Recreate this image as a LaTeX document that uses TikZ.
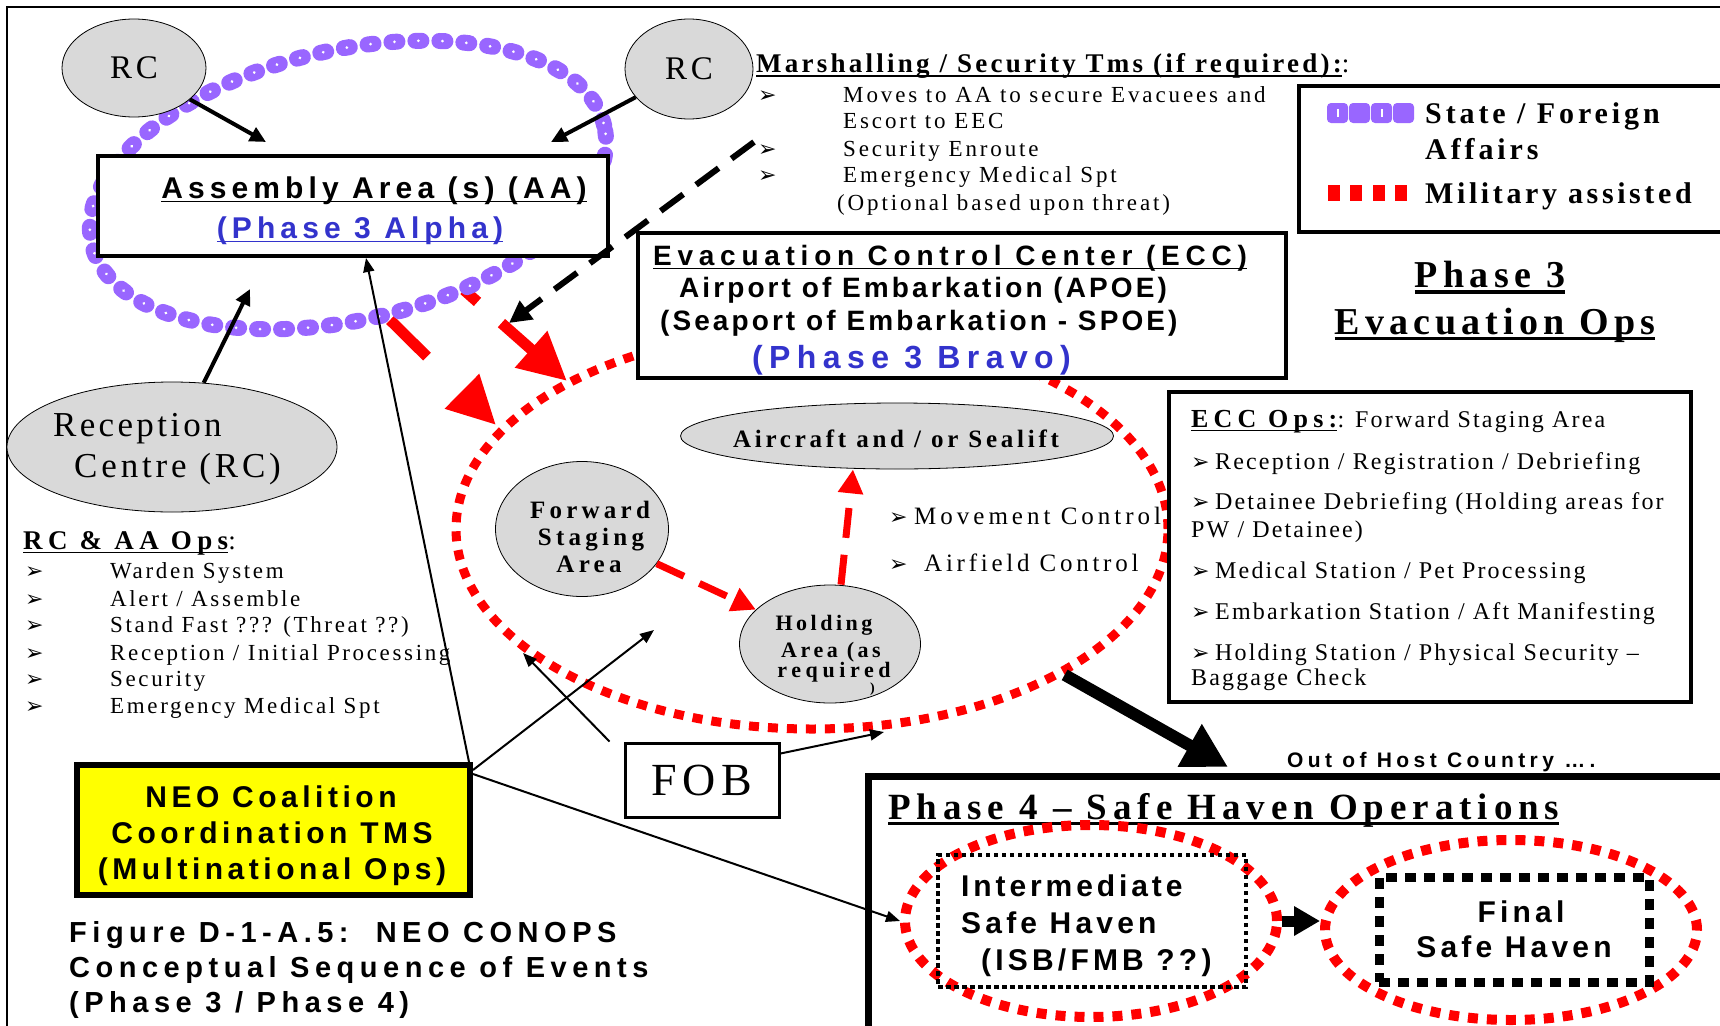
\documentclass[tikz,border=0pt]{standalone}
\usepackage{fontspec}
\setmainfont{Liberation Serif}
\newfontfamily\arialf{Liberation Sans}
\newfontfamily\dejavu{DejaVu Sans}
\usetikzlibrary{arrows.meta, shapes.geometric, positioning}

\definecolor{rcgray}{RGB}{217,217,217}
\definecolor{dosviolet}{RGB}{153,102,255}
\definecolor{phaseblue}{RGB}{51,51,204}
\definecolor{milred}{RGB}{255,0,0}
\definecolor{neoyellow}{RGB}{255,255,0}

% underline of a given thickness
\newcommand\ulx[2]{\setbox0=\hbox{#2}\rlap{\rule[\dimexpr-2.5pt-#1\relax]{\wd0}{#1}}\box0}
\newcommand\serf[2]{\rmfamily\mdseries\fontsize{#1}{#1}\selectfont\addfontfeatures{LetterSpace=#2}}
\newcommand\serfb[2]{\rmfamily\bfseries\fontsize{#1}{#1}\selectfont\addfontfeatures{LetterSpace=#2}}
\newcommand\sanb[2]{\arialf\bfseries\fontsize{#1}{#1}\selectfont\addfontfeatures{LetterSpace=#2}}

\begin{document}
\begin{tikzpicture}[x=1pt, y=-1pt,
    rcell/.style={ellipse, draw, line width=0.8pt, fill=rcgray, inner sep=0pt},
    opsbox/.style={draw, line width=4pt, fill=white, inner sep=0pt},
    txt/.style={inner sep=0pt, anchor=base west},
    ctxt/.style={inner sep=0pt, anchor=base},
    bul/.style={inner sep=0pt, anchor=base west, font=\dejavu\fontsize{22}{22}\selectfont},
    milring/.style={ellipse, draw=milred, line width=9pt, dash pattern=on 10pt off 9pt, inner sep=0pt},
    milfat/.style={->, >={Triangle[length=48pt,width=46pt]}, milred, line width=11pt},
    milarrow/.style={->, >={Triangle[length=24pt,width=24pt]}, milred, line width=7pt, dash pattern=on 30pt off 17pt},
    blkarrow/.style={->, >={Triangle[length=16pt,width=15pt]}, line width=4pt},
    thinarrow/.style={->, >={Triangle[length=14pt,width=11pt]}, line width=2pt},
    msitem/.style={txt, font={\serf{23}{12.5}}},
    ecitem/.style={txt, font={\serf{24}{9}}},
  ]
  \useasboundingbox (0,0) rectangle (1720,1025);

  % page frame
  \draw[line width=2.5pt] (7,1030) -- (7,7) -- (1730,7);

  % military moves out of the assembly area
  \coordinate (aaout1) at (390,320);
  \coordinate (eccin1) at (496,425);
  \coordinate (aaout2) at (464,290);
  \coordinate (eccin2) at (567,381);
  \draw[milfat, dash pattern=on 52pt off 60pt] (aaout1) -- (eccin1);
  \draw[milfat, dash pattern=on 18pt off 32pt on 60pt off 10pt] (aaout2) -- (eccin2);

  % state / foreign affairs ring
  \begin{scope}[shift={(348,185)}, rotate=13]
    \draw[dosviolet, line width=16pt, line cap=round, dash pattern=on 6pt off 18pt] (0,0) ellipse [x radius=263pt, y radius=135pt];
    \draw[white, line width=3pt, line cap=round, dash pattern=on 0.01pt off 23.99pt, dash phase=21pt] (0,0) ellipse [x radius=263pt, y radius=135pt];
  \end{scope}

  % military ring round the ECC
  \node[milring, minimum width=712pt, minimum height=400pt] (eccring) at (812,529) {};

  % assembly area
  \node[opsbox, minimum width=510pt, minimum height=100pt] (aa) at (353,206) {};
  \node[ctxt, font={\sanb{30}{17}}] (aattl) at (374,198) {\ulx{1.3pt}{Assembly Area (s) (AA)}};
  \node[ctxt, font={\sanb{30}{17}}, text=phaseblue] (aaph) at (360,238) {\ulx{1.3pt}{(Phase 3 Alpha)}};

  % reception centres
  \node[rcell, minimum width=144pt, minimum height=98pt, font={\serf{33}{12}}] (rc1) at (134,68) {RC};
  \node[rcell, minimum width=128pt, minimum height=100pt, font={\serf{33}{12}}] (rc2) at (689,69) {RC};
  \node[rcell, minimum width=330pt, minimum height=130pt] (rec) at (172,447) {};
  \node[txt, font={\serf{35}{9.5}}] (rect1) at (53,436) {Reception};
  \node[txt, font={\serf{35}{11}}] (rect2) at (74,477) {Centre (RC)};
  \coordinate (aain1) at (266,142);
  \coordinate (aain2) at (551,142);
  \coordinate (aain3) at (250,289);
  \draw[blkarrow] (rc1) -- (aain1);
  \draw[blkarrow] (rc2) -- (aain2);
  \draw[blkarrow] (rec) -- (aain3);

  % RC & AA ops
  \node[txt, font={\serfb{27}{20}}] (rcops) at (23,549) {\ulx{1.3pt}{RC \& AA Ops}{\mdseries:}};
  \foreach \yy/\itemtext [count=\k] in {578/{Warden System}, 606/{Alert / Assemble}, 632/{Stand Fast ??? (Threat ??)}, 660/{Reception / Initial Processing}, 686/{Security}, 713/{Emergency Medical Spt}}{
    \node[bul] (rcb\k) at (25,\yy) {➢};
    \node[txt, font={\serf{23}{11.5}}] (rci\k) at (110,\yy) {\itemtext};
  }

  % marshalling / security teams
  \node[txt, font={\serfb{27}{12}}] (mst) at (756,73) {\ulx{1.3pt}{Marshalling / Security Tms (if required):}{\mdseries:}};
  \node[msitem] (ms1) at (843,102) {Moves to AA to secure Evacuees and};
  \node[msitem] (ms2) at (843,128) {Escort to EEC};
  \node[msitem] (ms3) at (843,156) {Security Enroute};
  \node[msitem] (ms4) at (843,182) {Emergency Medical Spt};
  \node[msitem] (ms5) at (837,210) {(Optional based upon threat)};
  \foreach \yy [count=\k] in {102,156,182}
    \node[bul] (msb\k) at (758,\yy) {➢};

  % evacuation control center
  \node[opsbox, minimum width=648pt, minimum height=145pt] (ecc) at (962,305.5) {};
  \node[txt, font={\sanb{28}{20.5}}] (ecct) at (653,265) {\ulx{1.3pt}{Evacuation Control Center (ECC)}};
  \node[txt, font={\sanb{28}{11}}] (ecca) at (679,297) {Airport of Embarkation (APOE)};
  \node[txt, font={\sanb{28}{11}}] (eccs) at (660,330) {(Seaport of Embarkation - SPOE)};
  \node[txt, font={\sanb{32}{20}}, text=phaseblue] (eccb) at (752,368) {(Phase 3 Bravo)};

  % marshalling teams escort
  \coordinate (msfrom) at (754,142);
  \coordinate (msto) at (509,323);
  \draw[->, >={Triangle[length=22pt,width=22pt]}, line width=6pt, dash pattern=on 28pt off 16pt] (msfrom) -- (msto);

  % legend
  \node[opsbox, minimum width=441pt, minimum height=146pt] (lgd) at (1519.5,159) {};
  \foreach \i in {0,...,3}
    \fill[dosviolet, rounded corners=4pt] (1327+22*\i,103) rectangle ++(21,20);
  \foreach \i in {0,2}
    \fill[white] (1337+22*\i,109) rectangle ++(2,8);
  \foreach \i in {0,...,3}
    \fill[milred] (1328+22.3*\i,185) rectangle ++(12,16);
  \node[txt, font={\serfb{30}{13}}] (lgs) at (1425,123) {State / Foreign};
  \node[txt, font={\serfb{30}{13}}] (lga) at (1425,159) {Affairs};
  \node[txt, font={\serfb{30}{12}}] (lgm) at (1425,203) {Military assisted};

  % phase 3 heading
  \node[ctxt, font={\serfb{38}{14}}] (ph3) at (1490,287) {\ulx{4pt}{Phase 3}};
  \node[ctxt, font={\serfb{38}{13.5}}] (evo) at (1495,334) {\ulx{3pt}{Evacuation Ops}};

  % ECC ops
  \node[opsbox, minimum width=522pt, minimum height=310pt] (eccops) at (1430,547) {};
  \node[txt, font={\serfb{26}{20}}] (eo0) at (1191,427) {\ulx{1.3pt}{ECC Ops:}};
  \node[ecitem] (eo0b) at (eo0.base east) {: Forward Staging Area};
  \foreach \yy/\itemtext [count=\k] in {469/{Reception / Registration / Debriefing}, 509/{Detainee Debriefing (Holding areas for}, 578/{Medical Station / Pet Processing}, 619/{Embarkation Station / Aft Manifesting}, 660/{Holding Station / Physical Security –}}{
    \node[bul] (eob\k) at (1191,\yy) {➢};
    \node[ecitem] (eoi\k) at (1215,\yy) {\itemtext};
  }
  \node[ecitem] (eopw) at (1191,537) {PW / Detainee)};
  \node[ecitem] (eobg) at (1191,685) {Baggage Check};

  % staging, holding and lift
  \node[rcell, minimum width=173pt, minimum height=135pt] (fsa) at (582,529) {};
  \node[ctxt, font={\serfb{25}{17}}] (fsa1) at (590,518) {Forward};
  \node[ctxt, font={\serfb{25}{17}}] (fsa2) at (591,545) {Staging};
  \node[ctxt, font={\serfb{25}{17}}] (fsa3) at (589,572) {Area};
  \node[rcell, minimum width=433pt, minimum height=66pt] (air) at (897,436) {};
  \node[ctxt, font={\serfb{25}{15}}] (airt) at (896,447) {Aircraft and / or Sealift};
  \node[rcell, minimum width=181pt, minimum height=118pt] (hold) at (830,644) {};
  \node[ctxt, font={\serfb{22}{16}}] (hold1) at (824,630) {Holding};
  \node[ctxt, font={\serfb{22}{16}}] (hold2) at (831,657) {Area (as};
  \node[ctxt, font={\serfb{22}{21}}] (hold3) at (834,677) {required};
  \node[txt, font={\serfb{14}{0}}] (hold4) at (870,692) {)};
  \draw[milarrow] (fsa) -- (hold);
  \draw[milarrow] ([xshift=11pt]hold.north) -- ([xshift=-44pt]air.south);
  \node[bul] (mvb1) at (889,524) {➢};
  \node[txt, font={\serf{25}{16}}] (mv1) at (914,524) {Movement Control};
  \node[bul] (mvb2) at (889,571) {➢};
  \node[txt, font={\serf{25}{15}}] (mv2) at (924,571) {Airfield Control};

  % coalition coordination
  \node[draw, line width=6pt, fill=neoyellow, minimum width=393pt, minimum height=130pt, inner sep=0pt] (neo) at (273.5,830) {};
  \node[ctxt, font={\sanb{30}{15}}] (neo1) at (271,807) {NEO Coalition};
  \node[ctxt, font={\sanb{30}{15}}] (neo2) at (272,843) {Coordination TMS};
  \node[ctxt, font={\sanb{30}{15}}] (neo3) at (272,879) {(Multinational Ops)};
  \node[txt, font={\sanb{29}{19}}] (cap1) at (69,942) {Figure D-1-A.5:\ \ NEO CONOPS};
  \node[txt, font={\sanb{29}{19}}] (cap2) at (69,977) {Conceptual Sequence of Events};
  \node[txt, font={\sanb{29}{19}}] (cap3) at (69,1012) {(Phase 3 / Phase 4)};

  % forward operating base
  \node[draw, line width=3pt, fill=white, minimum width=154pt, minimum height=74pt, inner sep=0pt, font={\serf{46}{12}}] (fob) at (702,780) {FOB};

  % phase 4
  \node[draw, line width=7pt, minimum width=872pt, minimum height=264pt, inner sep=0pt] (p4) at (1304,908) {};
  \node[txt, font={\serfb{37}{16}}] (p4t) at (888,819) {\ulx{3pt}{Phase 4 – Safe Haven Operations}};
  \node[txt, font={\sanb{21}{21}}] (ohc) at (1287,767) {Out of Host Country ….};
  \node[milring, line width=10pt, dash pattern=on 10pt off 9pt, minimum width=372pt, minimum height=192pt] (ish) at (1091,921) {};
  \node[draw, line width=4.5pt, dash pattern=on 4.5pt off 3.5pt, minimum width=308pt, minimum height=132pt, inner sep=0pt] (ishbox) at (1092,921) {};
  \node[txt, font={\sanb{30}{13}}] (ish1) at (961,896) {Intermediate};
  \node[txt, font={\sanb{30}{14}}] (ish2) at (961,933) {Safe Haven};
  \node[txt, font={\sanb{30}{14}}] (ish3) at (981,970) {(ISB/FMB ??)};
  \node[milring, line width=10pt, dash pattern=on 10pt off 9pt, minimum width=372pt, minimum height=180pt] (fsh) at (1511,930) {};
  \node[draw, line width=9pt, dash pattern=on 11pt off 8pt, minimum width=270pt, minimum height=105pt, inner sep=0pt] (fshbox) at (1514,929.5) {};
  \node[ctxt, font={\sanb{30}{14}}] (fsh1) at (1521,922) {Final};
  \node[ctxt, font={\sanb{30}{14}}] (fsh2) at (1514,957) {Safe Haven};
  \draw[->, >={Triangle[length=26pt,width=28pt]}, line width=11pt] (ish.east) -- (ish.east -| fsh.west);

  % out of host country
  \coordinate (p4in) at (1228,767);
  \draw[->, >={Triangle[length=44pt,width=46pt]}, line width=12pt] (eccring.-30) -- (p4in);

  % coordination lines
  \coordinate (fsain) at (654,630);
  \coordinate (fobin1) at (523,653);
  \coordinate (fobin2) at (884,732);
  \draw[thinarrow] ([xshift=-4pt]neo.north east) -- ([xshift=13pt]aa.south);
  \draw[thinarrow] ([yshift=-8pt]neo.north east) -- (fsain);
  \draw[thinarrow] ([yshift=-12pt]neo.north east) -- (ish.west);
  \draw[thinarrow] ([xshift=-14pt]fob.north west) -- (fobin1);
  \draw[thinarrow] ([yshift=-12pt]fob.north east) -- (fobin2);
\end{tikzpicture}
\end{document}
